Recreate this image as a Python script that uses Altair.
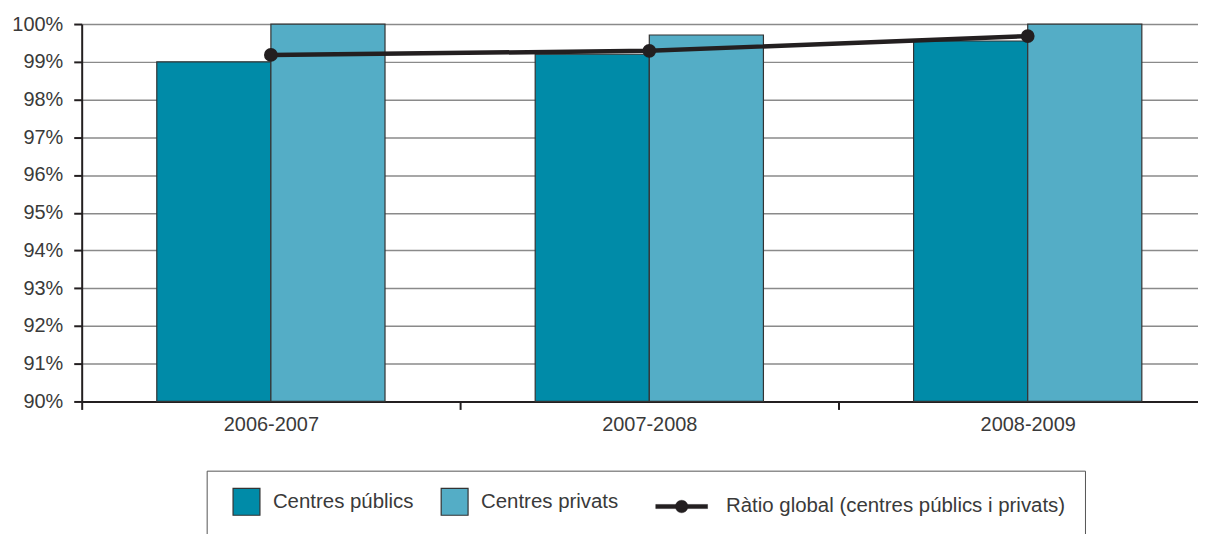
import altair as alt
import pandas as pd

years = ["2006-2007", "2007-2008", "2008-2009"]
publics = [99.0, 99.2, 99.55]
privats = [100.0, 99.71, 100.0]
global_ratio = [99.18, 99.29, 99.68]
series_names = ["Centres públics", "Centres privats"]
line_name = "Ràtio global (centres públics i privats)"
y_ticks = [90, 91, 92, 93, 94, 95, 96, 97, 98, 99, 100]

bars_df = pd.DataFrame(
    [{"year": y, "series": series_names[0], "value": v, "base": 90} for y, v in zip(years, publics)]
    + [{"year": y, "series": series_names[1], "value": v, "base": 90} for y, v in zip(years, privats)]
)
line_df = pd.DataFrame({"year": years, "value": global_ratio, "series": [line_name] * 3})

FONT = "Liberation Sans"
TXT = "#3a3a3a"
DARK = "#231f20"

xscale = alt.Scale(domain=years, range=[0, 1140], paddingInner=0, paddingOuter=0)
yscale = alt.Scale(domain=[90, 100], nice=False, zero=False)

x_axis = alt.Axis(title=None, labelAngle=0, tickBand="extent", grid=False)
y_axis = alt.Axis(title=None, values=y_ticks, labelExpr="datum.value + '%'", grid=True,
                  labelOverlap=False)

bars = alt.Chart(bars_df).mark_bar(stroke="#333333", strokeWidth=1.2).encode(
    x=alt.X("year:N", scale=xscale, sort=years, axis=x_axis),
    xOffset=alt.XOffset("series:N", sort=series_names,
                        scale=alt.Scale(paddingInner=0, paddingOuter=0.658)),
    y=alt.Y("value:Q", scale=yscale, axis=y_axis),
    y2=alt.Y2("base:Q"),
    fill=alt.Fill("series:N", sort=series_names,
                  scale=alt.Scale(domain=series_names, range=["#008ba8", "#54adc6"]),
                  legend=alt.Legend(title=None, orient="none", direction="horizontal",
                                    legendX=151, legendY=465,
                                    symbolType="M-1,-1L1,-1L1,1L-1,1Z",
                                    symbolSize=729, symbolStrokeColor="#333333",
                                    symbolStrokeWidth=1.2, labelFontSize=20.5, labelFont=FONT,
                                    labelColor=TXT, labelOffset=12, columnPadding=24,
                                    labelLimit=0)),
)

line = alt.Chart(line_df).mark_line(strokeWidth=4.5, color=DARK,
                                    point=alt.OverlayMarkDef(filled=True, size=140, color=DARK)).encode(
    x=alt.X("year:N", scale=xscale, sort=years, axis=x_axis),
    y=alt.Y("value:Q", scale=yscale, axis=y_axis),
    stroke=alt.Stroke("series:N", scale=alt.Scale(domain=[line_name], range=[DARK]),
                      legend=alt.Legend(title=None, orient="none", direction="horizontal",
                                        legendX=576, legendY=458,
                                        symbolType="M-1,-0.08L1,-0.08L1,0.08L-1,0.08Z M0.24,0A0.24,0.24 0 1,1 -0.24,0A0.24,0.24 0 1,1 0.24,0Z",
                                        symbolSize=2704, symbolFillColor=DARK,
                                        symbolStrokeColor=DARK, symbolStrokeWidth=0.5,
                                        labelFontSize=20.5, labelFont=FONT, labelColor=TXT,
                                        labelOffset=18, labelLimit=0)),
)

box = alt.Chart(pd.DataFrame({"a": [0]})).mark_rect(fill="white", stroke="#555555", strokeWidth=1).encode(
    x=alt.value(126), x2=alt.value(1008), y=alt.value(449), y2=alt.value(620)
)

chart = alt.layer(box, bars, line).properties(
    width=1121, height=379,
    autosize=alt.AutoSizeParams(type="none"),
    padding={"left": 74, "top": 15, "right": 0, "bottom": 132},
).configure_view(stroke=None).configure_axis(
    domain=True, domainColor=DARK, domainWidth=2, ticks=True, tickColor=DARK, tickWidth=2,
    tickSize=8, labelPadding=5, labelFontSize=20, labelColor=TXT, labelFont=FONT,
    gridColor="#8a8a8a", gridWidth=1.5,
).configure_axisX(labelPadding=5).configure_axisY(labelPadding=11)

chart.save("out.html", embed_options={"renderer": "svg", "actions": False})
